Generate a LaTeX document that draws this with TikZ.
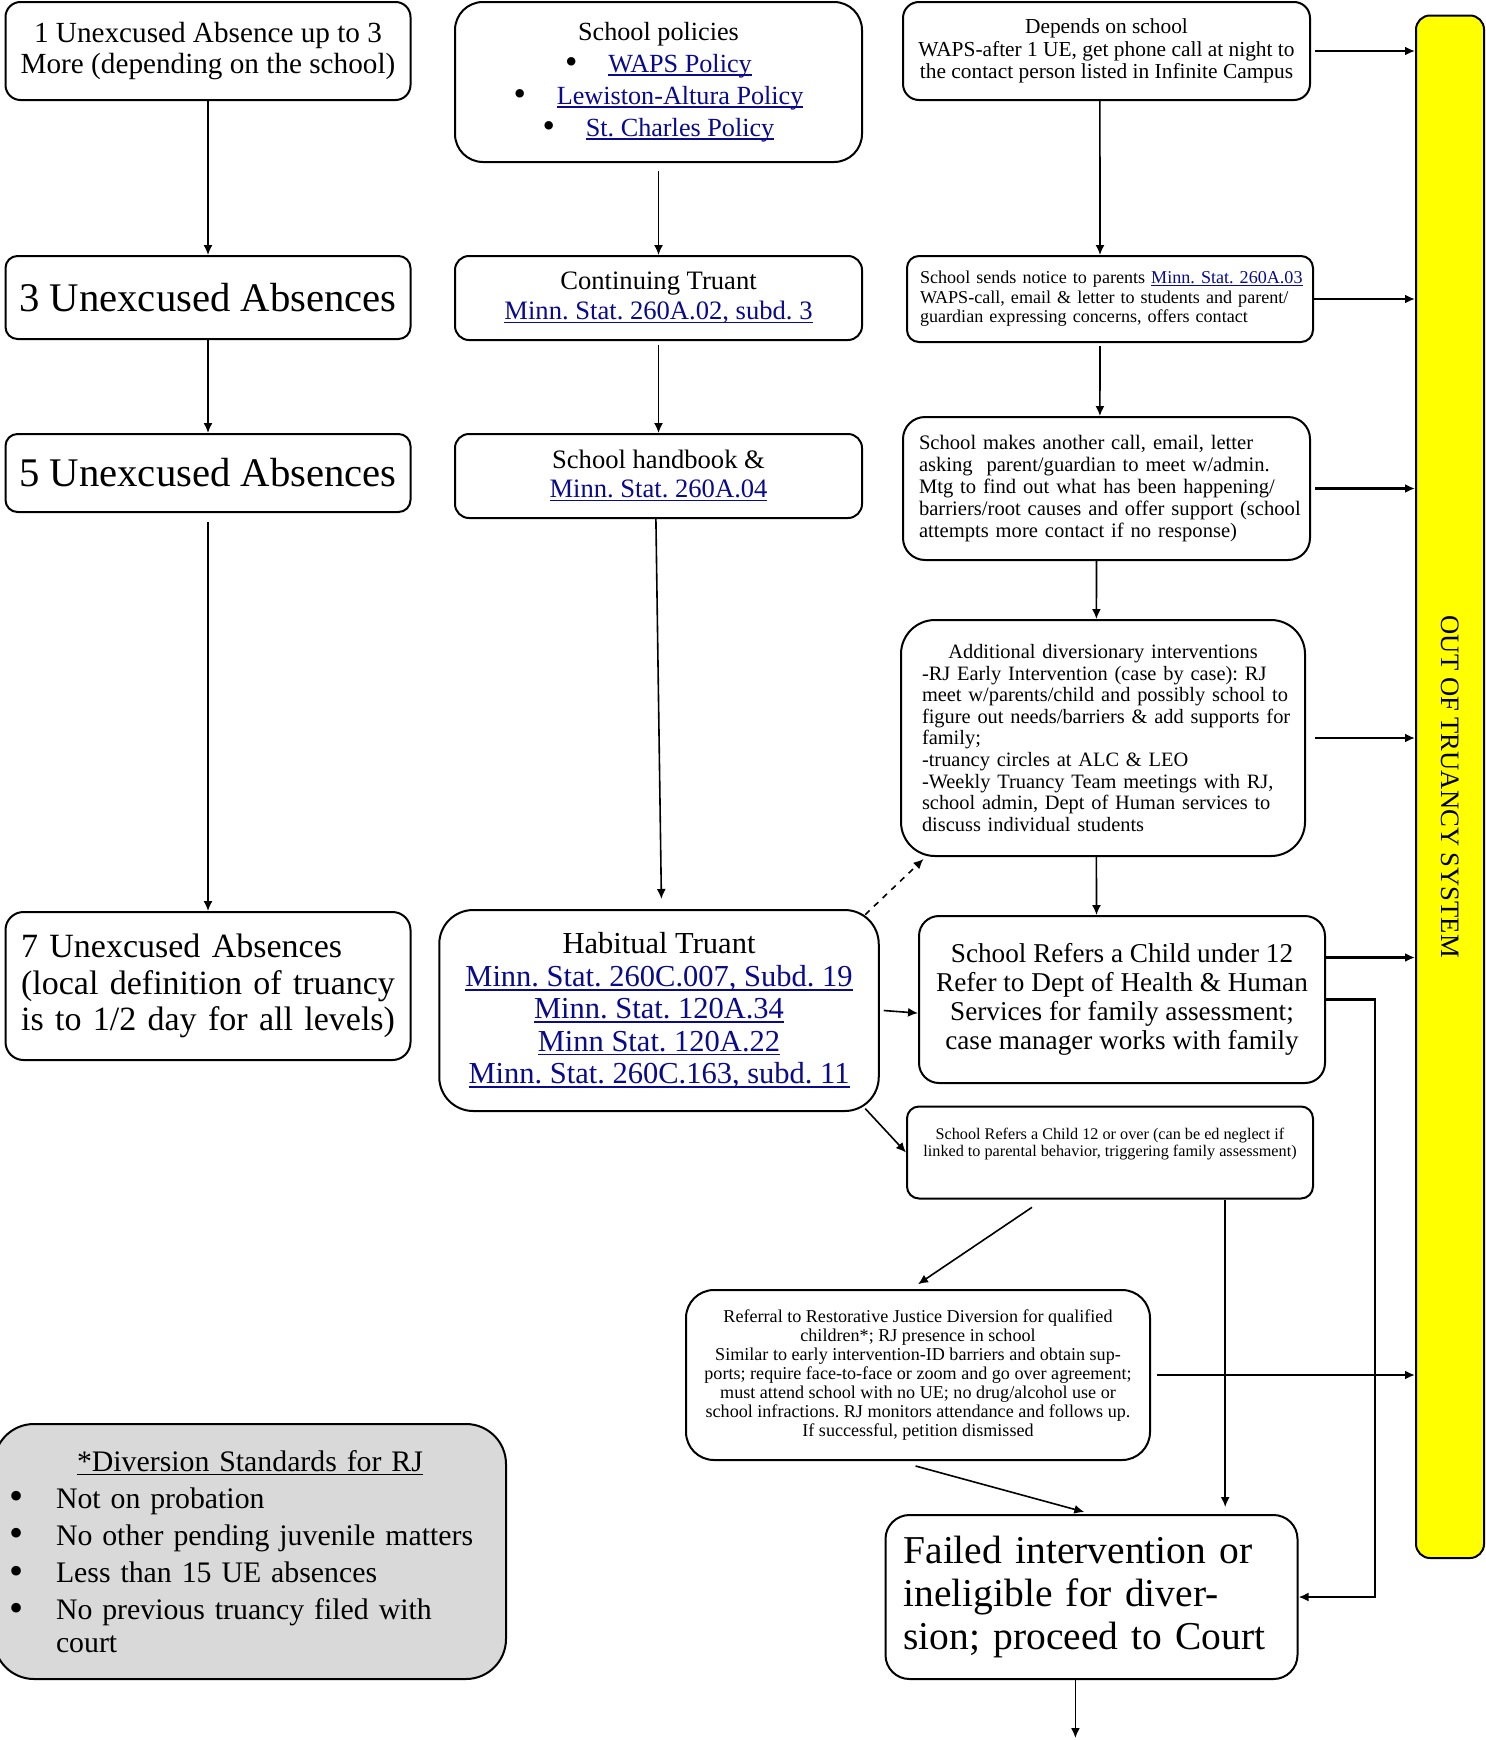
\documentclass[tikz,border=0pt]{standalone}
\usepackage{fontspec}
\setmainfont{Liberation Serif}
\usepackage{graphicx}
\usetikzlibrary{arrows.meta}
\definecolor{lnkc}{RGB}{10,10,140}
\definecolor{dgray}{RGB}{217,217,217}
\definecolor{ybar}{RGB}{255,255,0}
\frenchspacing
\newsavebox{\ulbox}
\newcommand{\myul}[1]{\sbox{\ulbox}{#1}\rlap{\rule[-0.14em]{\wd\ulbox}{0.055em}}\usebox{\ulbox}}
\newcommand{\lnk}[1]{\textcolor{lnkc}{\myul{#1}}}
\newcommand{\fs}[2]{\fontsize{#1}{#2}\selectfont}
\newcommand{\bigbul}{\raisebox{-0.05em}{\scalebox{1.35}{\textbullet}}}
\newcommand{\bul}{\makebox[21.6pt][l]{\bigbul}}
\newcommand{\itm}{\hangindent=21pt\hangafter=1\noindent\makebox[21pt][l]{\hspace{-2pt}\bigbul}}
\begin{document}
\begin{tikzpicture}[x=0.5pt,y=-0.5pt,
  box/.style={draw, line width=1pt, fill=white, inner sep=0pt, align=center},
  lbox/.style={box, align=left},
  arr/.style={-{Latex[length=5pt,width=4.5pt]}, line width=0.8pt},
  yarr/.style={-{Latex[length=5pt,width=4.5pt]}, line width=1.1pt}]
\useasboundingbox (0,0) rectangle (1486,1740);

% column 1
\node[box, minimum width=202.5pt, minimum height=49pt, rounded corners=7.5pt, font=\fs{14.6pt}{15.8pt}] (A1) at (208,51)
 {1 Unexcused Absence up to 3\\More (depending on the school)};
\node[box, minimum width=202.5pt, minimum height=41.5pt, rounded corners=6pt, font=\fs{20.35pt}{22pt}] (A3) at (208,297.5)
 {3 Unexcused Absences};
\node[box, minimum width=202.5pt, minimum height=39pt, rounded corners=6pt, font=\fs{20.35pt}{22pt}] (A5) at (208,473)
 {5 Unexcused Absences};
\node[lbox, minimum width=202.5pt, minimum height=74pt, rounded corners=9pt, inner xsep=7.8pt, text width=186.9pt, font=\fs{17pt}{18.3pt}] (A7) at (208,986)
 {\mbox{7 Unexcused Absences}\\\mbox{(local definition of truancy}\\\mbox{is to 1/2 day for all levels)}};

% column 2
\node[box, minimum width=203.5pt, minimum height=80pt, rounded corners=14pt, font=\fs{13.1pt}{16pt}] (B1) at (658.5,82)
 {School policies\\\bul\lnk{WAPS Policy}\\\bul\lnk{Lewiston-Altura Policy}\\\bul\lnk{St. Charles Policy}};
\node[box, minimum width=203.5pt, minimum height=42pt, rounded corners=7pt, font=\fs{13.3pt}{15pt}] (B2) at (658.5,298)
 {Continuing Truant\\\lnk{Minn. Stat. 260A.02, subd. 3}};
\node[box, minimum width=203.5pt, minimum height=42pt, rounded corners=7pt, font=\fs{13.3pt}{14.4pt}] (B3) at (658.5,476)
 {School handbook \&\\\lnk{Minn. Stat. 260A.04}};
\node[box, minimum width=219.75pt, minimum height=100.5pt, rounded corners=17pt, font=\fs{15.25pt}{16.2pt}] (B4) at (659,1010.5)
 {Habitual Truant\\\lnk{Minn. Stat. 260C.007, Subd. 19}\\\lnk{Minn. Stat. 120A.34}\\\lnk{Minn Stat. 120A.22}\\\lnk{Minn. Stat. 260C.163, subd. 11}};

% column 3
\node[box, minimum width=203.5pt, minimum height=49pt, rounded corners=8pt, font=\fs{10.7pt}{11.4pt}] (C1) at (1106.5,51)
 {Depends on school\\WAPS-after 1 UE, get phone call at night to\\the contact person listed in Infinite Campus};
\node[lbox, minimum width=203pt, minimum height=43pt, rounded corners=6pt, inner xsep=6.5pt, text width=190pt, font=\fs{9.05pt}{9.7pt}] (C2) at (1110,299)
 {\mbox{School sends notice to parents \lnk{Minn. Stat. 260A.03}}\\\mbox{WAPS-call, email \& letter to students and parent/}\\\mbox{guardian expressing concerns, offers contact}};
\node[lbox, minimum width=203.5pt, minimum height=71.5pt, rounded corners=11pt, inner xsep=8pt, text width=187.5pt, font=\fs{10.3pt}{11pt}] (C3) at (1106.5,488.5)
 {\mbox{School makes another call, email, letter}\\\mbox{asking\ \ parent/guardian to meet w/admin.}\\\mbox{Mtg to find out what has been happening/}\\\mbox{barriers/root causes and offer support (school}\\\mbox{attempts more contact if no response)}};
\node[lbox, minimum width=202pt, minimum height=118pt, rounded corners=17pt, inner xsep=10.5pt, text width=181pt, font=\fs{10.2pt}{10.8pt}] (C4) at (1103,738)
 {\makebox[181pt][c]{Additional diversionary interventions}\\\mbox{-RJ Early Intervention (case by case): RJ}\\\mbox{meet w/parents/child and possibly school to}\\\mbox{figure out needs/barriers \& add supports for}\\\mbox{family;}\\\mbox{-truancy circles at ALC \& LEO}\\\mbox{-Weekly Truancy Team meetings with RJ,}\\\mbox{school admin, Dept of Human services to}\\\mbox{discuss individual students}};
\node[box, minimum width=203pt, minimum height=83.5pt, rounded corners=10pt, font=\fs{13.6pt}{14.4pt}] (C5) at (1122,999.5)
 {School Refers a Child under 12\\Refer to Dept of Health \& Human\\Services for family assessment;\\case manager works with family};
\node[box, minimum width=203pt, minimum height=46pt, rounded corners=6pt] (C6) at (1110,1152.5) {};
\node[align=center, inner sep=0pt, font=\fs{8.1pt}{8.9pt}] (C6t) at ([yshift=4.2pt]C6.center)
 {School Refers a Child 12 or over (can be ed neglect if\\linked to parental behavior, triggering family assessment)};
\node[box, minimum width=232pt, minimum height=85pt, rounded corners=14pt, font=\fs{9.05pt}{9.55pt}] (C7) at (918,1375)
 {Referral to Restorative Justice Diversion for qualified\\children*; RJ presence in school\\Similar to early intervention-ID barriers and obtain sup-\\ports; require face-to-face or zoom and go over agreement;\\must attend school with no UE; no drug/alcohol use or\\school infractions. RJ monitors attendance and follows up.\\If successful, petition dismissed};
\node[lbox, minimum width=206pt, minimum height=82pt, rounded corners=12pt, inner xsep=9pt, text width=188pt, font=\fs{19.75pt}{21.6pt}] (C8) at (1091.5,1597)
 {\mbox{Failed intervention or}\\\mbox{ineligible for diver-}\\\mbox{sion; proceed to Court}};

% diversion standards
\node[lbox, fill=dgray, minimum width=256pt, minimum height=127.5pt, rounded corners=20pt, inner xsep=10pt, text width=236pt, font=\fs{14.9pt}{16.4pt}\setlength{\parskip}{2.2pt}] (D) at (250,1551.5)
 {\makebox[236pt][c]{\myul{*Diversion Standards for RJ}}\par
  \itm Not on probation\par
  \itm No other pending juvenile matters\par
  \itm Less than 15 UE absences\par
  \itm No previous truancy filed with court\par};

% yellow bar
\node[box, fill=ybar, minimum width=34pt, minimum height=771.25pt, rounded corners=7pt, font=\fs{13.3pt}{15pt}] (Y) at (1450,786.75)
 {\rotatebox{-90}{OUT OF TRUANCY SYSTEM}};

% connectors column 1
\draw[arr] (A1.south) -- (A3.north);
\draw[arr] (A3.south) -- (A5.north);
\draw[arr] ([yshift=-4.5pt]A5.south) -- (A7.north);
% column 2
\draw[arr] ([yshift=-4pt]B1.south) -- (B2.north);
\draw[arr] ([yshift=-2pt]B2.south) -- (B3.north);
\draw[arr] ([xshift=-1.3pt]B3.south) -- ([xshift=1.2pt,yshift=5pt]B4.north);
% column 3
\draw[arr] ([xshift=-3.3pt]C1.south) -- ([xshift=-5pt]C2.north);
\draw[arr] ([xshift=-5pt,yshift=-1.5pt]C2.south) -- ([xshift=-3.3pt]C3.north);
\draw[arr] ([xshift=-5pt]C3.south) -- ([xshift=-3.3pt]C4.north);
\draw[arr] ([xshift=-3.3pt]C4.south) -- ([xshift=-12.75pt]C5.north);
% to yellow bar
\draw[yarr] ([xshift=2pt]C1.east) -- (C1.east -| Y.west);
\draw[yarr] (C2.east) -- (C2.east -| Y.west);
\draw[yarr] ([xshift=2pt]C3.east) -- (C3.east -| Y.west);
\draw[yarr] ([xshift=4.5pt]C4.east) -- (C4.east -| Y.west);
\draw[yarr] ([yshift=21pt]C5.east) -- ([yshift=21pt]C5.east -| Y.west);
\draw[yarr] ([xshift=3pt]C7.east) -- (C7.east -| Y.west);
% habitual truant branches
\draw[arr] ([xshift=2pt]B4.east) -- ([yshift=-6.8pt]C5.west);
\draw[arr] ([xshift=-7.25pt,yshift=1.7pt]B4.south east) -- (C6.west);
\draw[arr, dashed] ([xshift=-7.25pt,yshift=-2.8pt]B4.north east) -- ([xshift=11.75pt,yshift=-1pt]C4.south west);
% lower part
\draw[arr] ([xshift=-39pt,yshift=-3.9pt]C6.south) -- ([yshift=2.4pt]C7.north);
\coordinate (c6b) at ([xshift=57.6pt]C6.south);
\draw[arr, shorten >=3.5pt] (c6b) -- (c6b |- C8.north);
\draw[arr] ([xshift=-1.2pt,yshift=-2.5pt]C7.south) -- ([xshift=-3.6pt,yshift=1pt]C8.north);
\draw[yarr] (C5.east) -- ++(24.5pt,0) |- (C8.east);
\coordinate (out) at (1075.4,1738);
\draw[arr] (C8.south -| out) -- (out);
\end{tikzpicture}
\end{document}
